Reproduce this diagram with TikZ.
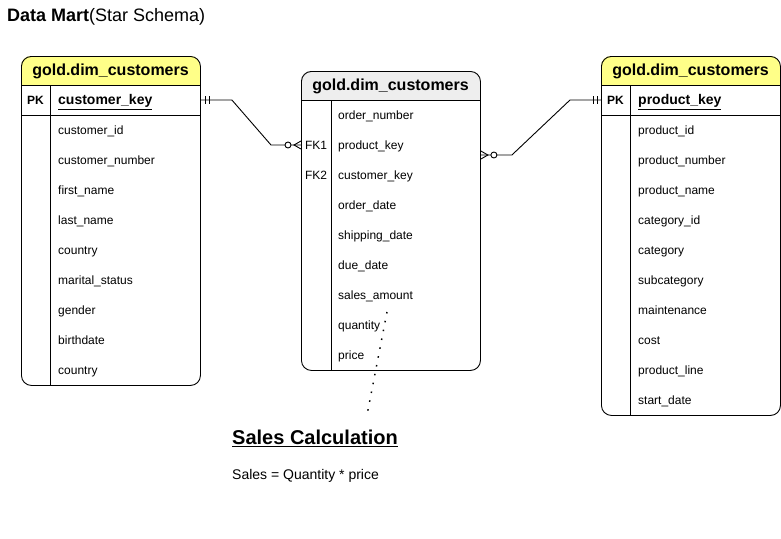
\documentclass[tikz,border=0pt]{standalone}
\usepackage{fontspec}
\setmainfont{Liberation Sans}
\usepackage{xcolor}
\definecolor{hdrYellow}{HTML}{FFFF88}
\definecolor{hdrGrey}{HTML}{EEEEEE}
\usetikzlibrary{calc}

\tikzset{
  tblFrame/.style={draw=black, line width=0.9pt, rounded corners=10pt, anchor=north west, inner sep=0pt},
  tblLine/.style={draw=black, line width=0.9pt},
  relLine/.style={draw=black, line width=0.9pt},
  headText/.style={inner sep=0pt, yshift=-1pt, font=\bfseries\fontsize{16}{18}\selectfont},
  fieldText/.style={anchor=west, inner sep=0pt, yshift=-1pt, text height=8.6pt, text depth=2.6pt, font=\fontsize{12}{14}\selectfont},
  keyText/.style={anchor=west, inner sep=0pt, yshift=-1pt, text height=10pt, text depth=3pt, font=\bfseries\fontsize{14}{16}\selectfont},
  tagText/.style={inner sep=0pt, yshift=-1pt, text height=8.6pt, text depth=2.6pt, font=\fontsize{12}{14}\selectfont},
}

\begin{document}
\begin{tikzpicture}[x=1pt, y=-1pt]
  \useasboundingbox[fill=white] (0,0) rectangle (781,538);

  % title
  \node[anchor=west, inner sep=0pt, font=\fontsize{18}{20}\selectfont] (title) at (7,16.5) {\textbf{Data Mart}(Star Schema)};

  % header fills
  \begin{scope}
    \clip[rounded corners=10pt] (21,56) rectangle (200,385);
    \fill[hdrYellow] (21,56) rectangle (200,85);
  \end{scope}
  \begin{scope}
    \clip[rounded corners=10pt] (301,71) rectangle (480,370);
    \fill[hdrGrey] (301,71) rectangle (480,100);
  \end{scope}
  \begin{scope}
    \clip[rounded corners=10pt] (601,56) rectangle (780,415);
    \fill[hdrYellow] (601,56) rectangle (780,85);
  \end{scope}

  % customers table
  \node[tblFrame, minimum width=179pt, minimum height=329pt] (cust) at (21,56) {};
  \draw[tblLine] (21,85) -- (200,85);
  \draw[tblLine] (21,115) -- (200,115);
  \draw[tblLine] (50,85) -- (50,385);
  \node[headText] (custHead) at (110.5,70.5) {gold.dim\_customers};
  \node[tagText, font=\bfseries\fontsize{12}{14}\selectfont] (custPk) at (35.5,100) {PK};
  \node[keyText] (custKey) at (58,100) {\underline{customer\_key}};
  \node[fieldText] (cust-1) at (58,130) {customer\_id};
  \node[fieldText] (cust-2) at (58,160) {customer\_number};
  \node[fieldText] (cust-3) at (58,190) {first\_name};
  \node[fieldText] (cust-4) at (58,220) {last\_name};
  \node[fieldText] (cust-5) at (58,250) {country};
  \node[fieldText] (cust-6) at (58,280) {marital\_status};
  \node[fieldText] (cust-7) at (58,310) {gender};
  \node[fieldText] (cust-8) at (58,340) {birthdate};
  \node[fieldText] (cust-9) at (58,370) {country};

  % fact table
  \node[tblFrame, minimum width=179pt, minimum height=299pt] (fact) at (301,71) {};
  \draw[tblLine] (301,100) -- (480,100);
  \draw[tblLine] (331,100) -- (331,370);
  \node[headText] (factHead) at (390.5,85.5) {gold.dim\_customers};
  \node[tagText] (factFk1) at (316,145) {FK1};
  \node[tagText] (factFk2) at (316,175) {FK2};
  \node[fieldText] (fact-1) at (338,115) {order\_number};
  \node[fieldText] (fact-2) at (338,145) {product\_key};
  \node[fieldText] (fact-3) at (338,175) {customer\_key};
  \node[fieldText] (fact-4) at (338,205) {order\_date};
  \node[fieldText] (fact-5) at (338,235) {shipping\_date};
  \node[fieldText] (fact-6) at (338,265) {due\_date};
  \node[fieldText] (fact-7) at (338,295) {sales\_amount};
  \node[fieldText] (fact-8) at (338,325) {quantity};
  \node[fieldText] (fact-9) at (338,355) {price};

  % products table
  \node[tblFrame, minimum width=179pt, minimum height=359pt] (prod) at (601,56) {};
  \draw[tblLine] (601,85) -- (780,85);
  \draw[tblLine] (601,115) -- (780,115);
  \draw[tblLine] (630,85) -- (630,415);
  \node[headText] (prodHead) at (690.5,70.5) {gold.dim\_customers};
  \node[tagText, font=\bfseries\fontsize{12}{14}\selectfont] (prodPk) at (615.5,100) {PK};
  \node[keyText] (prodKey) at (638,100) {\underline{product\_key}};
  \node[fieldText] (prod-1) at (638,130) {product\_id};
  \node[fieldText] (prod-2) at (638,160) {product\_number};
  \node[fieldText] (prod-3) at (638,190) {product\_name};
  \node[fieldText] (prod-4) at (638,220) {category\_id};
  \node[fieldText] (prod-5) at (638,250) {category};
  \node[fieldText] (prod-6) at (638,280) {subcategory};
  \node[fieldText] (prod-7) at (638,310) {maintenance};
  \node[fieldText] (prod-8) at (638,340) {cost};
  \node[fieldText] (prod-9) at (638,370) {product\_line};
  \node[fieldText] (prod-10) at (638,400) {start\_date};

  % relation customers -> fact
  \coordinate (custOut) at (cust.east |- 0,100);
  \coordinate (factIn) at (fact.west |- 0,145);
  \draw[relLine] (custOut) -- ++(31,0) -- ($(factIn)+(-30,0)$) -- (factIn);
  \draw[relLine] ($(custOut)+(5,-4)$) -- ++(0,8);
  \draw[relLine] ($(custOut)+(9,-4)$) -- ++(0,8);
  \draw[relLine] ($(factIn)+(0,-4)$) -- ++(-7,4) -- ++(7,4);
  \draw[relLine, fill=white] ($(factIn)+(-13,0)$) circle (3pt);

  % relation products -> fact
  \coordinate (prodOut) at (prod.west |- 0,100);
  \coordinate (factOut) at ($(fact.north east)+(0,84)$);
  \draw[relLine] (factOut) -- ++(31,0) -- ($(prodOut)+(-31,0)$) -- (prodOut);
  \draw[relLine] ($(prodOut)+(-4,-4)$) -- ++(0,8);
  \draw[relLine] ($(prodOut)+(-8,-4)$) -- ++(0,8);
  \draw[relLine] ($(factOut)+(0,-4)$) -- ++(7,4) -- ++(-7,4);
  \draw[relLine, fill=white] ($(factOut)+(13,0)$) circle (3pt);

  % note
  \node[anchor=west, inner sep=0pt, font=\bfseries\fontsize{20}{22}\selectfont] (calcTitle) at (232,438) {\underline{Sales Calculation}};
  \node[anchor=west, inner sep=0pt, font=\fontsize{14}{16}\selectfont] (calcText) at (232,476) {Sales = Quantity * price};
  \coordinate (noteTip) at (387,312);
  \coordinate (noteEnd) at (367,415);
  \draw[line width=1.5pt, dash pattern=on 1.5pt off 7.5pt] (noteTip) -- (noteEnd);
\end{tikzpicture}
\end{document}
